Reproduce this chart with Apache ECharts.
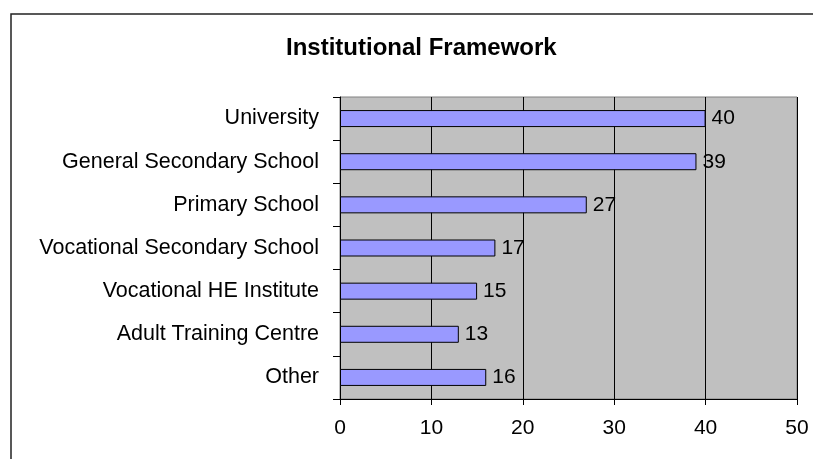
<!DOCTYPE html>
<html>
<head>
<meta charset="utf-8">
<script src="https://cdn.jsdelivr.net/npm/echarts@6/dist/echarts.min.js"></script>
<style>
  html, body { margin: 0; padding: 0; background: #fff; }
  #chart { width: 813px; height: 459px; }
</style>
</head>
<body>
<div id="chart"></div>
<script>
var categories = ['University', 'General Secondary School', 'Primary School',
    'Vocational Secondary School', 'Vocational HE Institute', 'Adult Training Centre', 'Other'];
var values = [40, 39, 27, 17, 15, 13, 16];
var xTicks = [0, 10, 20, 30, 40, 50];

var chartDom = document.getElementById('chart');
var myChart = echarts.init(chartDom);
var font = 'Liberation Sans, Arial, sans-serif';

var option = {
    animation: false,
    textStyle: { fontFamily: font },
    title: {
        text: 'Institutional Framework',
        left: 281,
        top: 31,
        textStyle: { fontFamily: font, fontSize: 24, fontWeight: 'bold', color: '#000' }
    },
    graphic: [{
        type: 'rect',
        shape: { x: 11, y: 14, width: 900, height: 600 },
        style: { fill: 'none', stroke: '#222', lineWidth: 1.5 },
        silent: true
    }],
    grid: {
        left: 340,
        top: 97,
        right: 16,
        bottom: 60,
        show: true,
        backgroundColor: '#C0C0C0',
        borderColor: '#808080',
        borderWidth: 1
    },
    xAxis: {
        type: 'value',
        min: xTicks[0],
        max: xTicks[xTicks.length - 1],
        interval: 10,
        axisLine: { show: true, lineStyle: { color: '#000', width: 1 } },
        axisTick: { show: true, length: 6, lineStyle: { color: '#000' } },
        axisLabel: { color: '#000', fontSize: 21, fontFamily: font, margin: 19 },
        splitLine: { show: true, lineStyle: { color: '#000', width: 1 } }
    },
    yAxis: {
        type: 'category',
        data: categories,
        inverse: true,
        axisLine: { show: true, lineStyle: { color: '#000', width: 1 } },
        axisTick: { show: true, length: 7, lineStyle: { color: '#000' } },
        axisLabel: { color: '#000', fontSize: 21.5, fontFamily: font, margin: 21 },
        splitLine: { show: false }
    },
    series: [{
        type: 'bar',
        data: values,
        barWidth: 17,
        itemStyle: { color: '#9999FF', borderColor: '#000', borderWidth: 1 },
        label: {
            show: true,
            position: 'right',
            distance: 6,
            color: '#000',
            fontSize: 21,
            fontFamily: font
        }
    }]
};
myChart.setOption(option);
</script>
</body>
</html>
